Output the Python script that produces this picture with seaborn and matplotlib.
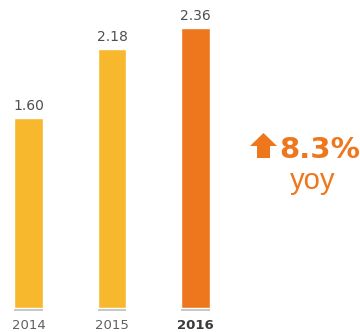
import matplotlib
matplotlib.use("Agg")
import matplotlib.pyplot as plt
from matplotlib.patches import FancyArrow
import seaborn as sns
import pandas as pd

# Data
years = ["2014", "2015", "2016"]
values = [1.60, 2.18, 2.36]
bar_colors = ["#F8B82D", "#F8B82D", "#EE771D"]
growth_label = "8.3%"
growth_unit = "yoy"

sns.set_style("white")
plt.rcParams["font.family"] = ["DejaVu Sans"]

W, H, DPI = 360, 332, 100
fig = plt.figure(figsize=(W / DPI, H / DPI), dpi=DPI)

# Main bar axes, spanning the figure width; baseline 24 px above the bottom edge
ax = fig.add_axes([0, 24 / H, 1, 308 / H])
df = pd.DataFrame({"year": years, "value": values})
sns.barplot(data=df, x="year", y="value", hue="year", palette=bar_colors,
            legend=False, width=0.347, saturation=1, ax=ax)

ax.set_xlim(-28.5 / 83.5, (W - 28.5) / 83.5)
ax.set_ylim(0, 308 / 118.7)
for s in ax.spines.values():
    s.set_visible(False)
ax.set_yticks([])
ax.set_xlabel("")
ax.set_ylabel("")

# Value labels over the bars
for cont in ax.containers:
    ax.bar_label(cont, fmt="%.2f", padding=3.5, fontsize=10, color="#4e4e4e")

# Thin grey base line under each bar
off = 1.6 / 118.7
for p in ax.patches:
    ax.plot([p.get_x(), p.get_x() + p.get_width()], [-off, -off],
            color="#bdbdbd", lw=1.2, clip_on=False, solid_capstyle="butt")

# Category tick labels, latest year in bold
ax.tick_params(axis="x", length=0, pad=8)
for lab in ax.get_xticklabels():
    lab.set_fontsize(9.5)
    if lab.get_text() == years[-1]:
        lab.set_fontweight("bold")
        lab.set_color("#3a3a3a")
    else:
        lab.set_color("#606060")

# Year-over-year growth callout, in pixel coordinates
ov = fig.add_axes([0, 0, 1, 1])
ov.set_xlim(0, W)
ov.set_ylim(H, 0)
ov.axis("off")
ov.add_patch(FancyArrow(263.5, 158, 0, -25, width=13, head_width=27,
                        head_length=13, length_includes_head=True,
                        color="#EE771D", lw=0))
ov.text(279, 158, growth_label, fontsize=21, fontweight="bold",
        color="#EE771D", ha="left", va="baseline")
ov.text(313, 189, growth_unit, fontsize=21, color="#EE771D",
        ha="center", va="baseline", family=["Liberation Sans", "DejaVu Sans"])

fig.savefig("out.png", dpi=DPI)
